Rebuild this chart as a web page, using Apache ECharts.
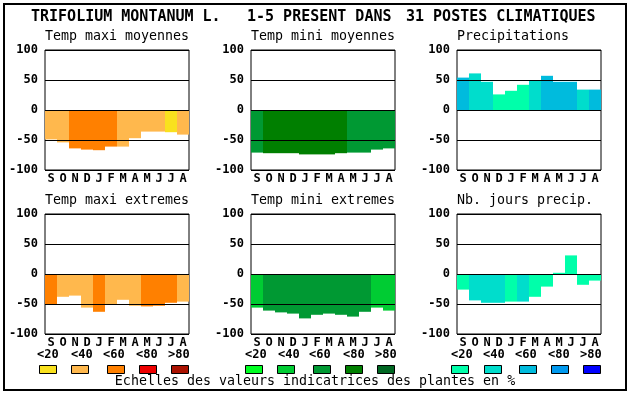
<!DOCTYPE html>
<html><head><meta charset="utf-8">
<script src="https://cdn.jsdelivr.net/npm/echarts@6/dist/echarts.min.js"></script>
<style>html,body{margin:0;padding:0;background:#fff}#c{width:630px;height:394px}</style>
</head><body><div id="c"></div>
<script>
// ---- data ----
const months = ['S','O','N','D','J','F','M','A','M','J','J','A'];
const classLabels = ['<20','<40','<60','<80','>80'];
const orangeScale = ['#F9E11E','#FFB84D','#FF8000','#EE0000','#AA1100'];
const greenScale  = ['#00FF22','#00CC33','#009933','#007F00','#006622'];
const blueScale   = ['#00FFAA','#00DDCC','#00BBDD','#0099EE','#0000FF'];

const tmaxMoyValues = [-49,-54,-64,-66,-67,-61,-61,-47,-36,-36,-37,-41];
const tmaxMoyClass  = [1,1,2,2,2,2,1,1,1,1,0,1];
const tminMoyValues = [-71,-72,-72,-72,-74,-74,-74,-72,-71,-71,-66,-64];
const tminMoyClass  = [2,3,3,3,3,3,3,3,2,2,2,2];
const precipValues  = [54,61,47,26,32,42,49,57,47,47,34,34];
const precipClass   = [2,1,1,0,0,0,1,2,2,2,1,2];
const tmaxExtValues = [-50,-38,-36,-56,-63,-50,-43,-53,-54,-53,-48,-46];
const tmaxExtClass  = [2,1,1,1,2,1,1,1,2,2,2,1];
const tminExtValues = [-56,-61,-64,-66,-74,-68,-66,-68,-71,-63,-56,-61];
const tminExtClass  = [1,2,2,2,2,2,2,2,2,2,1,1];
const joursValues   = [-26,-44,-48,-48,-46,-46,-38,-21,2,31,-18,-11];
const joursClass    = [0,1,1,1,0,1,0,0,0,0,0,0];

const panelTitles = ['Temp maxi moyennes','Temp mini moyennes','Precipitations',
                     'Temp maxi extremes','Temp mini extremes','Nb. jours precip.'];
const mainTitle = ['TRIFOLIUM MONTANUM L.','1-5 PRESENT DANS','31 POSTES CLIMATIQUES'];
const caption = 'Echelles des valeurs indicatrices des plantes en %';

// ---- layout ----
const panels = [
  {v: tmaxMoyValues, c: tmaxMoyClass, pal: orangeScale},
  {v: tminMoyValues, c: tminMoyClass, pal: greenScale},
  {v: precipValues,  c: precipClass,  pal: blueScale},
  {v: tmaxExtValues, c: tmaxExtClass, pal: orangeScale},
  {v: tminExtValues, c: tminExtClass, pal: greenScale},
  {v: joursValues,   c: joursClass,   pal: blueScale}
];
const lefts = [45, 251, 457];
const tops = [50, 214];
const mono = 'DejaVu Sans Mono';

const grids = [], xAxes = [], yAxes = [], series = [], graphics = [];
panels.forEach((p, i) => {
  const col = i % 3, row = Math.floor(i / 3);
  grids.push({left: lefts[col], top: tops[row], width: 144, height: 120,
    show: true, borderColor: '#000', borderWidth: 1, backgroundColor: '#fff'});
  xAxes.push({type: 'category', gridIndex: i, data: months,
    axisLine: {show: false}, axisTick: {show: false},
    axisLabel: {color: '#000', fontFamily: mono, fontWeight: 'bold', fontSize: 12, margin: 3, interval: 0}});
  yAxes.push({type: 'value', gridIndex: i, min: -100, max: 100, interval: 50, z: 5,
    axisLine: {show: false}, axisTick: {show: false},
    splitLine: {show: true, lineStyle: {color: '#000', width: 1}},
    axisLabel: {color: '#000', fontFamily: mono, fontWeight: 'bold', fontSize: 12, margin: 7}});
  series.push({type: 'bar', xAxisIndex: i, yAxisIndex: i, barCategoryGap: '0%', barGap: '0%',
    data: p.v.map((val, k) => ({value: val, itemStyle: {color: p.pal[p.c[k]]}})),
    itemStyle: {borderWidth: 0}, silent: true, animation: false});
  graphics.push({type: 'text', left: lefts[col], top: row === 0 ? 30 : 194,
    style: {text: panelTitles[i], font: '13.3px "' + mono + '"', fill: '#000'}});
});

// frame
graphics.push({type: 'rect', shape: {x: 4, y: 4, width: 622, height: 386},
  style: {fill: null, stroke: '#000', lineWidth: 2}, z: 10});
// main title
[31, 247, 406].forEach((x, k) => {
  graphics.push({type: 'text', left: x, top: 10,
    style: {text: mainTitle[k], font: 'bold 15px "' + mono + '"', fill: '#000'}});
});
// legend scales
const legendGroups = [
  {pal: orangeScale, labels: [37,71,103,136,168], boxes: [39,71,107,139,171]},
  {pal: greenScale,  labels: [245,278,309,343,375], boxes: [245,277,313,345,377]},
  {pal: blueScale,   labels: [451,483,515,548,580], boxes: [451,484,519,551,583]}
];
legendGroups.forEach(g => {
  g.pal.forEach((color, k) => {
    graphics.push({type: 'text', left: g.labels[k], top: 349,
      style: {text: classLabels[k], font: 'bold 12px "' + mono + '"', fill: '#000'}});
    graphics.push({type: 'rect', shape: {x: g.boxes[k] + 0.5, y: 365.5, width: 17, height: 8},
      style: {fill: color, stroke: '#000', lineWidth: 1}});
  });
});
graphics.push({type: 'text', left: 'center', top: 375,
  style: {text: caption, font: '13.3px "' + mono + '"', fill: '#000'}});

const chart = echarts.init(document.getElementById('c'), null, {renderer: 'canvas'});
chart.setOption({
  animation: false,
  backgroundColor: '#fff',
  grid: grids, xAxis: xAxes, yAxis: yAxes, series: series,
  graphic: graphics
});
</script></body></html>
